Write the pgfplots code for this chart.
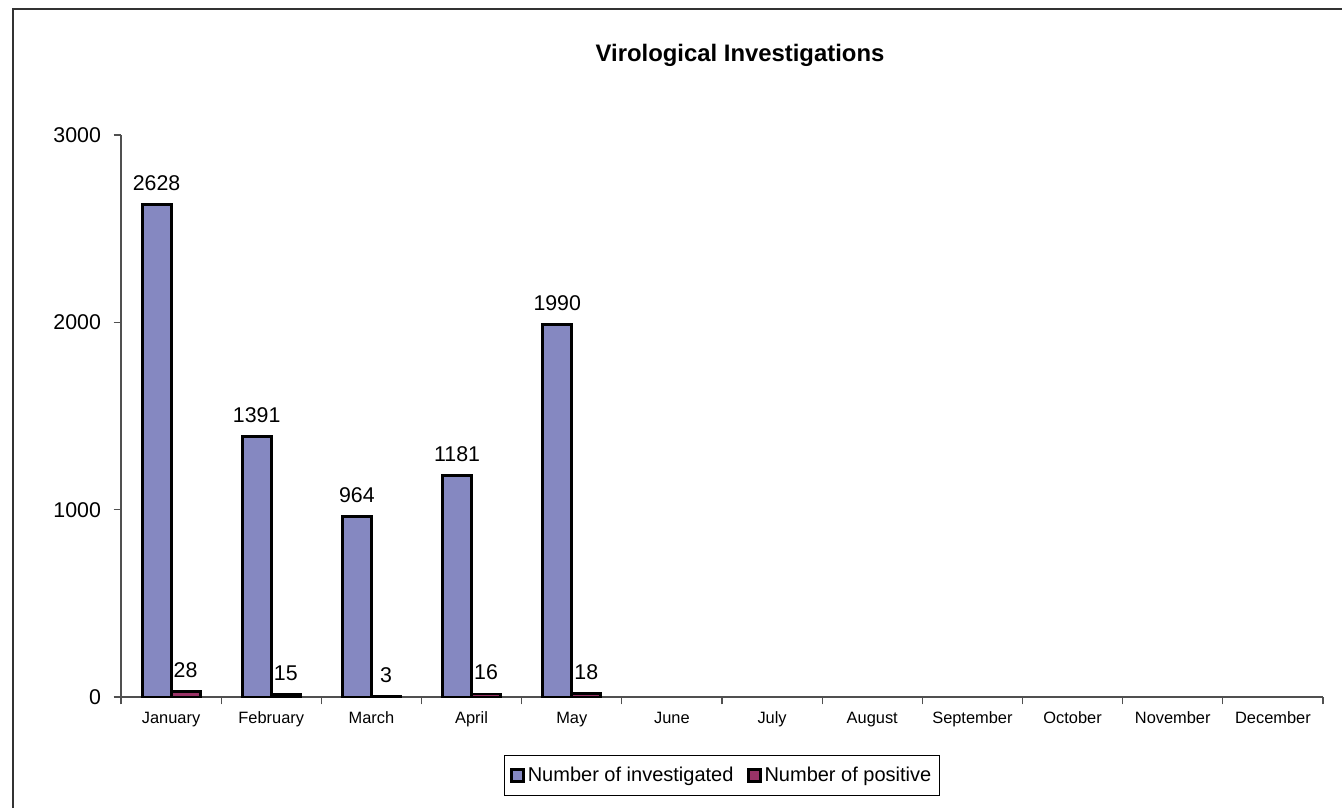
\documentclass[border=0pt]{standalone}
\usepackage{fontspec}
\setmainfont{Liberation Sans}
\usepackage{pgfplots}
\pgfplotsset{compat=1.18}
\definecolor{inv}{RGB}{133,136,193}
\definecolor{pos}{RGB}{153,51,102}
\definecolor{axgray}{RGB}{80,80,80}
\begin{document}
\begin{tikzpicture}
\path[use as bounding box] (0,0) rectangle (1006.5pt,606pt);
\draw[line width=1.2pt, color=black!80] (9.75pt,0) -- (9.75pt,599.25pt) -- (1006.5pt,599.25pt);
\node[font=\fontsize{17.9}{20}\selectfont\bfseries] at (555pt,564.75pt) {Virological Investigations};
\begin{axis}[
  at={(90.75pt,83.25pt)}, anchor=south west,
  scale only axis, width=901.5pt, height=421.5pt,
  xmin=-0.5, xmax=11.5, ymin=0, ymax=3000,
  axis x line=bottom, axis y line=left,
  axis line style={-, axgray, line width=0.8pt},
  ytick={0,1000,2000,3000},
  xtick={-0.5,0.5,...,11.5},
  x tick label as interval,
  xticklabels={January,February,March,April,May,June,July,August,September,October,November,December},
  tick align=outside, major tick length=5.5pt,
  tick style={axgray, line width=0.8pt},
  ytick pos=left, xtick pos=bottom,
  yticklabel shift=6pt,
  y tick label style={font=\fontsize{16}{18}\selectfont},
  x tick label style={font=\fontsize{12.3}{14}\selectfont, text height=9pt, text depth=2.5pt, yshift=-1.5pt},
  /pgf/number format/assume math mode=true,
  /pgf/number format/1000 sep={},
  ybar, bar width=0.29,
  nodes near coords,
  nodes near coords style={font=\fontsize{16}{18}\selectfont, yshift=6pt},
  legend style={at={(0.5,-0.1397)}, anchor=center, legend columns=2,
    draw=black, line width=1pt, font=\fontsize{15}{17}\selectfont,
    inner xsep=4pt, inner ysep=7pt,
    /tikz/every even column/.append style={column sep=8pt}},
  legend image code/.code={\draw[#1, line width=2.3pt] (1pt,-4.5pt) rectangle (10pt,4.5pt);},
]
\addplot[fill=inv, draw=black, line width=2.2pt, bar shift=-0.145] coordinates {(0,2628) (1,1391) (2,964) (3,1181) (4,1990)};
\addplot[fill=pos, draw=black, line width=2.2pt, bar shift=0.145] coordinates {(0,28) (1,15) (2,3) (3,16) (4,18)};
\legend{Number of investigated, Number of positive}
\end{axis}
\end{tikzpicture}
\end{document}
